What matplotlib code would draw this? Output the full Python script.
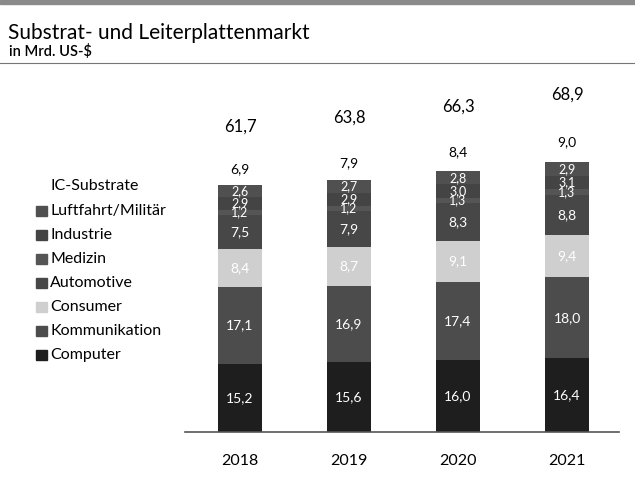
import matplotlib
matplotlib.use('Agg')
import matplotlib.pyplot as plt
from matplotlib.patches import Rectangle
from matplotlib.lines import Line2D

plt.rcParams['font.family'] = ['Lato', 'DejaVu Sans']

# data (Mrd. US-$)
years = ['2018', '2019', '2020', '2021']
totals = [61.7, 63.8, 66.3, 68.9]
segments = ['Computer', 'Kommunikation', 'Consumer', 'Automotive',
            'Medizin', 'Industrie', 'Luftfahrt/Militär', 'IC-Substrate']
computer = [15.2, 15.6, 16.0, 16.4]
kommunikation = [17.1, 16.9, 17.4, 18.0]
consumer = [8.4, 8.7, 9.1, 9.4]
automotive = [7.5, 7.9, 8.3, 8.8]
medizin = [1.2, 1.2, 1.3, 1.3]
industrie = [2.9, 2.9, 3.0, 3.1]
luftfahrt = [2.6, 2.7, 2.8, 2.9]
ic_substrate = [6.9, 7.9, 8.4, 9.0]
series = [computer, kommunikation, consumer, automotive,
          medizin, industrie, luftfahrt, ic_substrate]

colors = ['#1e1e1e', '#4c4c4c', '#cfcfcf', '#474747',
          '#555555', '#444444', '#505050', '#ffffff']
label_colors = ['white'] * 7 + ['black']


def fmt(v):
    return f'{v:.1f}'.replace('.', ',')


fig = plt.figure(figsize=(6.35, 4.86), dpi=100)
ax = fig.add_axes([0.2913, 0.1111, 0.6835, 0.7407])

x = list(range(len(years)))
bottom = [0.0] * len(years)
for i, vals in enumerate(series):
    ax.bar(x, vals, width=0.404, bottom=bottom, color=colors[i], linewidth=0)
    for j, v in enumerate(vals):
        fs = 10 if v > 4 else 9
        ax.text(x[j], bottom[j] + v / 2, fmt(v), ha='center', va='center',
                fontsize=fs, color=label_colors[i])
    bottom = [b + v for b, v in zip(bottom, vals)]

for j, t in enumerate(totals):
    ax.text(x[j], bottom[j] + 6, fmt(t), ha='center', va='center',
            fontsize=12, color='black')

ax.set_xlim(-0.505, 3.477)
ax.set_ylim(0, 80)
for s in ['top', 'right', 'left']:
    ax.spines[s].set_visible(False)
ax.spines['bottom'].set_color('#555555')
ax.spines['bottom'].set_linewidth(1.2)
ax.set_yticks([])
ax.set_xticks(x)
ax.set_xticklabels(years, fontsize=11.5)
ax.tick_params(axis='x', length=0, pad=16)

# legend, top entry = top of stack
leg_y = [186, 211, 235, 259, 283, 307, 331, 355]
for k, name in enumerate(reversed(segments)):
    col = colors[len(segments) - 1 - k]
    yf = 1 - leg_y[k] / 486
    if col != '#ffffff':
        fig.patches.append(Rectangle((36 / 635, yf - 5 / 486), 11 / 635, 10 / 486,
                                     transform=fig.transFigure, color=col))
    fig.text(50 / 635, yf, name, fontsize=11.5, va='center', ha='left')

# title block
fig.text(8 / 635, 1 - 33 / 486, 'Substrat- und Leiterplattenmarkt',
         fontsize=15, va='center', ha='left')
fig.text(9 / 635, 1 - 51 / 486, 'in Mrd. US-$', fontsize=10.5,
         va='center', ha='left', fontweight='semibold')
fig.patches.append(Rectangle((0, 1 - 4 / 486), 1, 4 / 486,
                             transform=fig.transFigure, color='#8a8a8a'))
fig.lines.append(Line2D([0, 1], [1 - 63 / 486, 1 - 63 / 486],
                        transform=fig.transFigure, color='#777777', lw=0.8))

fig.savefig('out.png', dpi=100)
